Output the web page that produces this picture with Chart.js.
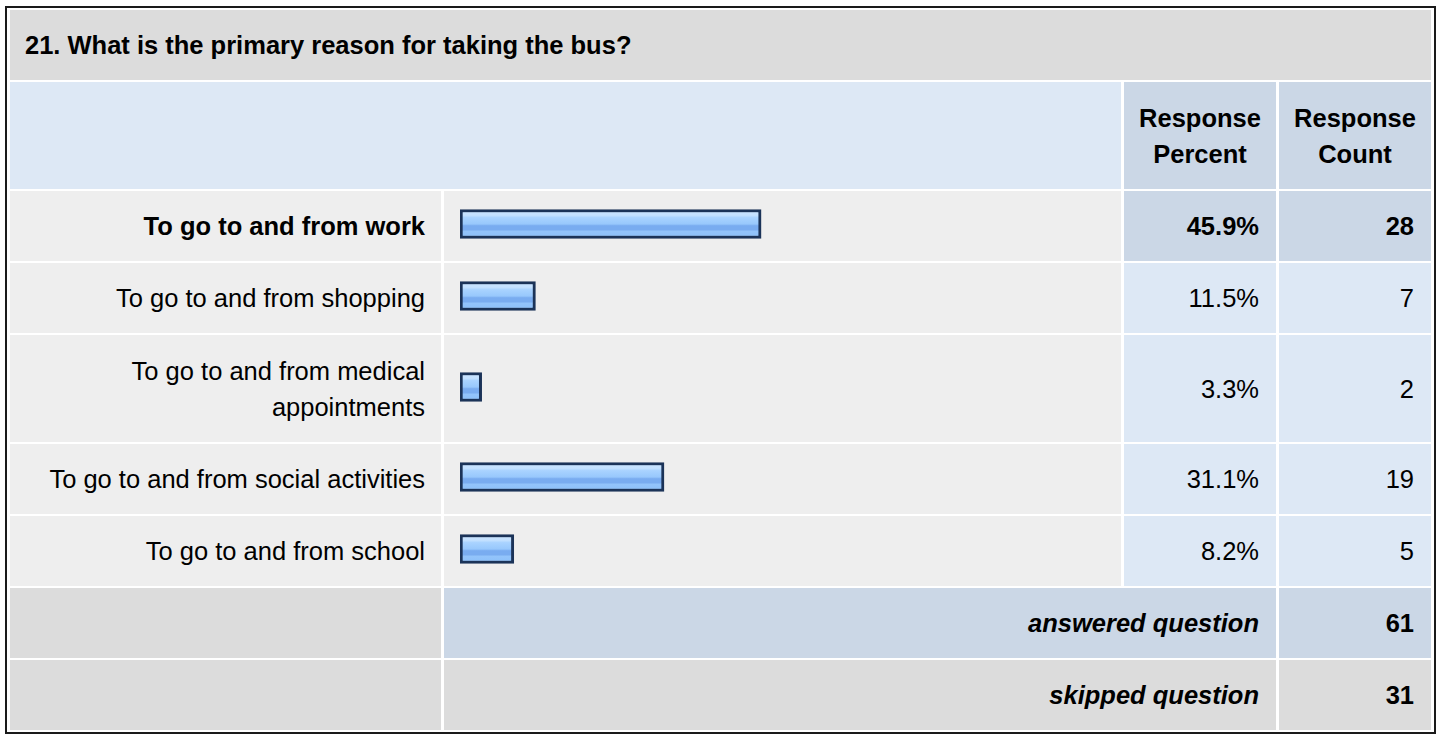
<!DOCTYPE html>
<html>
<head>
<meta charset="utf-8">
<script src="https://cdn.jsdelivr.net/npm/chart.js@4.4.0/dist/chart.umd.min.js"></script>
<style>
  html, body { margin: 0; padding: 0; background: #fff; }
  body { font-family: "Liberation Sans", Arial, sans-serif; font-size: 25.5px; color: #000; }
  table.survey {
    position: absolute; left: 5px; top: 6px;
    width: 1431px; box-sizing: border-box;
    table-layout: fixed;
    border: 2px solid #1a1a1a;
    border-collapse: separate; border-spacing: 3px 2px;
  }
  table.survey td { box-sizing: border-box; padding: 0 17px; line-height: 36px; vertical-align: middle; }
  .title { background: #dcdcdc; height: 70px; font-weight: bold; padding-left: 15px !important; text-align: left; }
  .hdr-blank { background: #dde8f5; height: 107px; }
  .hdr { background: #cbd7e6; font-weight: bold; text-align: center; padding: 0 !important; }
  .label { background: #eeeeee; text-align: right; padding: 0 16px !important; height: 70px; }
  .bar { background: #eeeeee; padding: 0 16px !important; }
  .num { background: #dde8f5; text-align: right; }
  .top { background: #cbd7e6; font-weight: bold; }
  .gray { background: #dcdcdc; }
  .sum { background: #cbd7e6; text-align: right; font-weight: bold; font-style: italic; }
  .sumgray { background: #dcdcdc; text-align: right; font-weight: bold; font-style: italic; }
  .sumnum { text-align: right; font-weight: bold; }
  .barbox { width: 656px; height: 34px; margin-bottom: 4px; position: relative; }
</style>
</head>
<body>
<table class="survey" id="survey">
  <colgroup><col style="width:431px"><col style="width:677px"><col style="width:152px"><col style="width:152px"></colgroup>
</table>
<script>
const question = "21. What is the primary reason for taking the bus?";
const headers = ["Response Percent", "Response Count"];
const answers = [
  "To go to and from work",
  "To go to and from shopping",
  "To go to and from medical appointments",
  "To go to and from social activities",
  "To go to and from school"
];
const percents = [45.9, 11.5, 3.3, 31.1, 8.2];
const counts = [28, 7, 2, 19, 5];
const answeredCount = 61;
const skippedCount = 31;

function CreateElement(elem, parent, value, classNames = []) {
  const element = document.createElement(elem);
  element.innerHTML = value;
  classNames.forEach(c => element.classList.add(c));
  parent.appendChild(element);
  return element;
}

const table = document.getElementById("survey");
const topIndex = counts.indexOf(Math.max(...counts));

// title row
let tr = CreateElement("tr", table, "");
let td = CreateElement("td", tr, question, ["title"]);
td.colSpan = 4;

// header row
tr = CreateElement("tr", table, "");
td = CreateElement("td", tr, "", ["hdr-blank"]);
td.colSpan = 2;
headers.forEach(h => {
  CreateElement("td", tr, h.replace(" ", "<br>"), ["hdr"]);
});

function barGradient(context) {
  const chart = context.chart;
  const area = chart.chartArea;
  if (!area || !Number.isFinite(area.top) || !Number.isFinite(area.bottom)) return "#99c9fb";
  const yc = (area.top + area.bottom) / 2;
  const g = chart.ctx.createLinearGradient(0, yc - 14.5, 0, yc + 14.5);
  g.addColorStop(0, "#c9e4ff");
  g.addColorStop(0.2, "#c4e1ff");
  g.addColorStop(0.28, "#a9d3ff");
  g.addColorStop(0.5, "#98c8fc");
  g.addColorStop(0.56, "#79acf0");
  g.addColorStop(0.7, "#79acf0");
  g.addColorStop(0.75, "#93c4fb");
  g.addColorStop(1, "#8bbff9");
  return g;
}

answers.forEach((answer, i) => {
  const row = CreateElement("tr", table, "");
  const lab = CreateElement("td", row, answer, ["label"]);
  if (i === topIndex) lab.style.fontWeight = "bold";
  if (i === 2) lab.style.height = "107px";
  const barCell = CreateElement("td", row, "", ["bar"]);
  const box = CreateElement("div", barCell, "", ["barbox"]);
  const canvas = CreateElement("canvas", box, "");
  const pct = CreateElement("td", row, percents[i].toFixed(1) + "%", ["num"]);
  const cnt = CreateElement("td", row, counts[i], ["num"]);
  if (i === topIndex) { pct.classList.add("top"); cnt.classList.add("top"); }

  new Chart(canvas, {
    type: "bar",
    data: {
      labels: [answer],
      datasets: [{
        data: [percents[i]],
        backgroundColor: barGradient,
        borderColor: "#1b3358",
        borderWidth: 3,
        borderSkipped: false,
        barThickness: 29
      }]
    },
    options: {
      indexAxis: "y",
      responsive: true,
      maintainAspectRatio: false,
      animation: false,
      events: [],
      layout: { padding: 0 },
      plugins: { legend: { display: false }, tooltip: { enabled: false } },
      scales: {
        x: { display: false, min: 0, max: 100 },
        y: { display: false }
      }
    }
  });
});

// answered / skipped
tr = CreateElement("tr", table, "");
CreateElement("td", tr, "", ["gray"]).style.height = "70px";
td = CreateElement("td", tr, "answered question", ["sum"]);
td.colSpan = 2;
CreateElement("td", tr, answeredCount, ["sum", "sumnum"]).style.fontStyle = "normal";

tr = CreateElement("tr", table, "");
CreateElement("td", tr, "", ["gray"]).style.height = "70px";
td = CreateElement("td", tr, "skipped question", ["sumgray"]);
td.colSpan = 2;
CreateElement("td", tr, skippedCount, ["sumgray", "sumnum"]).style.fontStyle = "normal";
</script>
</body>
</html>
